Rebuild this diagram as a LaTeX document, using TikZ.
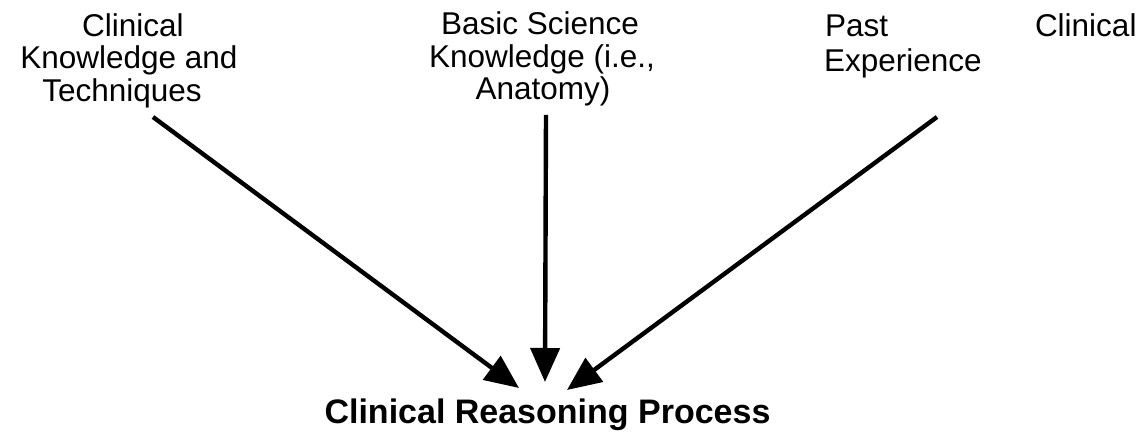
\documentclass[tikz,border=0pt]{standalone}
\usepackage{fontspec}
\setmainfont{Liberation Sans}
\usetikzlibrary{arrows.meta}
\begin{document}
\begin{tikzpicture}[x=0.5pt,y=-0.5pt,
  lbl/.style={inner sep=0pt,outer sep=0pt,anchor=base,font=\fontsize{15.75pt}{16.5pt}\selectfont},
  lblw/.style={lbl,anchor=base west},
  title/.style={inner sep=0pt,outer sep=0pt,anchor=base,font=\fontsize{17pt}{18pt}\selectfont\bfseries},
  arr/.style={line width=2.2pt,-{Triangle[length=17pt,width=14.5pt]}}]
\useasboundingbox (0,0) rectangle (1148,442);
% left label
\node[lbl] (l1) at (133,37) {Clinical};
\node[lbl] (l2) at (129,69) {Knowledge and};
\node[lbl] (l3) at (122,102) {Techniques};
% middle label
\node[lbl] (m1) at (540,35) {Basic Science};
\node[lbl] (m2) at (542,68) {Knowledge (i.e.,};
\node[lbl] (m3) at (543,100) {Anatomy)};
% right labels
\node[lblw] (r1) at (825,37) {Past};
\node[lblw] (r2) at (824,72) {Experience};
\node[lblw] (r3) at (1035,37) {Clinical};
% bottom
\node[title] (crp) at (547.5,424) {Clinical Reasoning Process};
% arrow ends
\coordinate (ls) at (153,117);
\coordinate (lt) at (519,388);
\coordinate (ms) at (546,115);
\coordinate (mt) at (545,382);
\coordinate (rs) at (937,117);
\coordinate (rt) at (567,390);
\draw[arr] (ls) -- (lt);
\draw[arr] (ms) -- (mt);
\draw[arr] (rs) -- (rt);
\end{tikzpicture}
\end{document}
